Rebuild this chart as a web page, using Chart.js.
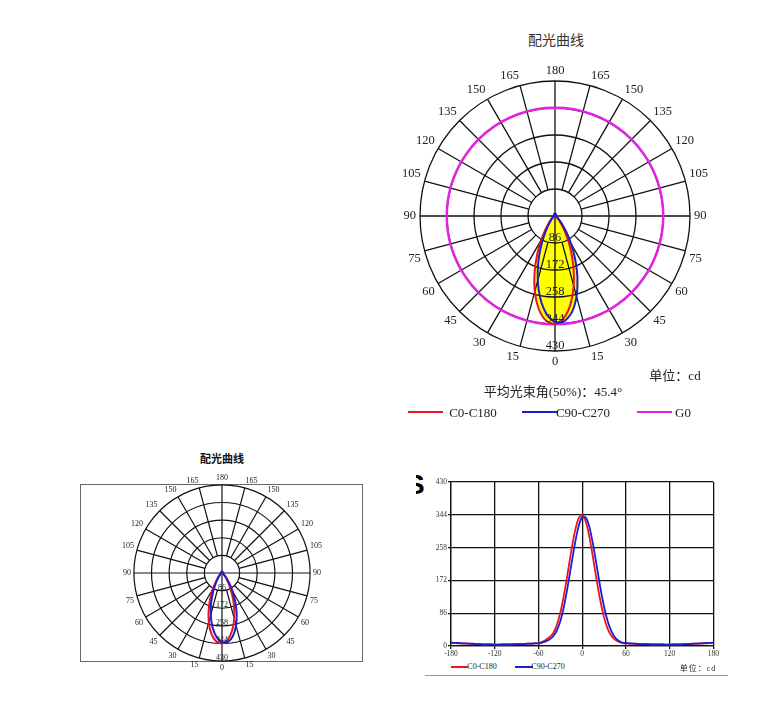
<!DOCTYPE html>
<html>
<head>
<meta charset="utf-8">
<title>配光曲线</title>
<script src="https://cdn.jsdelivr.net/npm/chart.js@4.4.1/dist/chart.umd.min.js"></script>
<style>
  html, body { margin: 0; padding: 0; background: #fff; }
  body { position: relative; width: 774px; height: 726px; overflow: hidden; font-family: "Liberation Serif", serif; color: #222; }
  .box { position: absolute; }
  .t { position: absolute; white-space: nowrap; transform: translate(-50%, -50%); line-height: 1; }
  .cjk { font-family: "Noto Sans CJK SC", sans-serif; }
  .key { position: absolute; height: 2px; }
</style>
</head>
<body>

<!-- top polar -->
<div class="t cjk" style="left:556px;top:39px;font-size:14px;color:#333">配光曲线</div>
<div class="box" style="left:403px;top:63px;width:306px;height:306px"><canvas id="polarTop"></canvas></div>
<div class="t" style="left:675px;top:375px;font-size:13px"><span class="cjk">单位：</span>cd</div>
<div class="t" style="left:553px;top:391px;font-size:13px"><span class="cjk">平均光束角</span>(50%)<span class="cjk">：</span>45.4°</div>
<div class="key" style="left:408px;top:411px;width:35px;background:#e8161e"></div>
<div class="t" style="left:473px;top:412px;font-size:13px">C0-C180</div>
<div class="key" style="left:522px;top:411px;width:35px;background:#1e1ecf"></div>
<div class="t" style="left:583px;top:412px;font-size:13px">C90-C270</div>
<div class="key" style="left:637px;top:411px;width:35px;background:#e024e0"></div>
<div class="t" style="left:683px;top:412px;font-size:13px">G0</div>

<!-- bottom-left polar -->
<div class="t cjk" style="left:222px;top:458px;font-size:11px;font-weight:bold;color:#111">配光曲线</div>
<div class="box" style="left:80px;top:484px;width:281px;height:176px;border:1px solid #666"></div>
<div class="box" style="left:122px;top:473px;width:200px;height:200px"><canvas id="polarSmall"></canvas></div>

<!-- cartesian -->
<div class="box" style="left:416px;top:471px;width:9px;height:26px;overflow:hidden"><span style="position:absolute;left:-10px;top:0;font:bold 28px/28px 'Liberation Sans';color:#000">S</span></div>
<div class="box" style="left:411px;top:472px;width:309px;height:190px"><canvas id="lineChart"></canvas></div>
<div class="key" style="left:451px;top:666px;width:17px;height:1.5px;background:#e8161e"></div>
<div class="t" style="left:482px;top:667px;font-size:8px">C0-C180</div>
<div class="key" style="left:515px;top:666px;width:18px;height:1.5px;background:#1e1ecf"></div>
<div class="t" style="left:548px;top:667px;font-size:8px">C90-C270</div>
<div class="t" style="left:698px;top:668px;font-size:8px;letter-spacing:1px"><span class="cjk">单位：</span>cd</div>
<div class="box" style="left:425px;top:675px;width:303px;height:1px;background:#999"></div>

<script>
// angles in degrees, -180..180 every 5
const angleDeg = [-180, -175, -170, -165, -160, -155, -150, -145, -140, -135, -130, -125,
                  -120, -115, -110, -105, -100, -95, -90, -85, -80, -75, -70, -65,
                  -60, -55, -50, -45, -40, -35, -30, -25, -20, -15, -10, -5,
                  0, 5, 10, 15, 20, 25, 30, 35, 40, 45, 50, 55,
                  60, 65, 70, 75, 80, 85, 90, 95, 100, 105, 110, 115,
                  120, 125, 130, 135, 140, 145, 150, 155, 160, 165, 170, 175,
                  180];
// intensity (cd)
const c0c180Cd = [8, 8, 7, 7, 6, 6, 5, 5, 5, 4, 4, 4,
                  4, 4, 4, 4, 4, 5, 5, 5, 5, 6, 6, 7,
                  8, 11, 16, 23, 33, 54, 87, 134, 190, 249, 300, 334,
                  344, 326, 285, 230, 171, 118, 75, 45, 27, 17, 11, 8,
                  7, 6, 6, 5, 5, 5, 5, 4, 4, 4, 4, 4,
                  4, 4, 4, 4, 5, 5, 5, 6, 6, 7, 7, 8,
                  8];
const c90c270Cd = [9, 8, 8, 7, 7, 6, 6, 5, 5, 4, 4, 4,
                   3, 3, 4, 4, 4, 4, 5, 5, 5, 6, 6, 7,
                   7, 9, 12, 17, 25, 40, 65, 104, 155, 212, 268, 313,
                   338, 337, 311, 265, 209, 152, 103, 65, 39, 23, 14, 9,
                   8, 7, 6, 6, 5, 5, 5, 4, 4, 4, 4, 3,
                   3, 4, 4, 4, 5, 5, 6, 6, 7, 7, 8, 8,
                   9];
const g0Cd = 345;
const cdTicks = [0, 86, 172, 258, 344, 430];
const angleTicks = [-180, -120, -60, 0, 60, 120, 180];

const RED = '#e8161e', BLUE = '#1e1ecf', MAGENTA = '#e024e0', YELLOW = '#ffff00', INK = '#111';

Chart.defaults.font.family = '"Liberation Serif", serif';
Chart.defaults.color = '#222';

// polar order: index 0 at the bottom (0 deg), left half is the negative side, top is 180
const polarIdx = [];
for (let i = 0; i < 72; i++) polarIdx.push(i <= 36 ? 36 - i : 108 - i);
const polarLabels = polarIdx.map(k => String(Math.abs(angleDeg[k])));
const polarOf = arr => polarIdx.map(k => arr[k]);

// cd values written along the downward axis
const radialTickLabels = {
    id: 'radialTickLabels',
    afterDatasetsDraw(chart, args, opts) {
        const r = chart.scales.r, ctx = chart.ctx;
        ctx.save();
        ctx.font = opts.size + 'px "Liberation Serif"';
        ctx.fillStyle = '#222';
        ctx.textAlign = 'center';
        ctx.textBaseline = 'alphabetic';
        cdTicks.slice(1).forEach(v => {
            ctx.fillText(String(v), r.xCenter, r.yCenter + r.getDistanceFromCenterForValue(v) - opts.lift);
        });
        ctx.restore();
    }
};

function makePolar(id, o) {
    const sets = [
        { label: 'C90-C270', data: polarOf(c90c270Cd), borderColor: BLUE, order: 1 },
        { label: 'C0-C180', data: polarOf(c0c180Cd), borderColor: RED, order: 2 }
    ];
    sets.forEach(s => {
        s.borderWidth = o.lw;
        s.fill = o.fill ? 'origin' : false;
        s.backgroundColor = YELLOW;
    });
    if (o.g0) {
        sets.push({ label: 'G0', data: polarLabels.map(() => g0Cd), borderColor: MAGENTA, borderWidth: 2.5, fill: false, tension: 0, order: 3 });
    }
    return new Chart(document.getElementById(id), {
        type: 'radar',
        data: { labels: polarLabels, datasets: sets },
        plugins: [radialTickLabels],
        options: {
            responsive: true,
            maintainAspectRatio: false,
            animation: false,
            elements: { point: { radius: 0 }, line: { tension: 0.25 } },
            plugins: {
                legend: { display: false },
                tooltip: { enabled: false },
                filler: { drawTime: 'beforeDraw' },
                radialTickLabels: { size: o.font, lift: o.lift }
            },
            scales: {
                r: {
                    min: 0,
                    max: 430,
                    startAngle: 180,
                    ticks: { display: false, stepSize: 86 },
                    grid: { circular: true, color: INK, lineWidth: o.gw },
                    angleLines: {
                        color: INK,
                        lineWidth: c => c.index % 3 === 0 ? o.gw : 0,
                        borderDash: c => c.index % 18 === 0 ? [] : [0, c.scale.getDistanceFromCenterForValue(cdTicks[1]), 2000, 0]
                    },
                    pointLabels: {
                        padding: o.pad,
                        color: '#222',
                        font: { size: o.font, lineHeight: 1 },
                        callback: (lbl, i) => i % 3 === 0 ? lbl : ''
                    }
                }
            }
        }
    });
}

makePolar('polarTop', { font: 12.5, pad: 4, lw: 2, gw: 1.3, fill: true, g0: true, lift: 2 });
makePolar('polarSmall', { font: 8, pad: 3, lw: 2, gw: 1.2, fill: false, g0: false, lift: 1 });

// ================= Cartesian =================
new Chart(document.getElementById('lineChart'), {
    type: 'line',
    data: {
        datasets: [
            { label: 'C90-C270', data: angleDeg.map((a, i) => ({ x: a, y: c90c270Cd[i] })), borderColor: BLUE, order: 1 },
            { label: 'C0-C180', data: angleDeg.map((a, i) => ({ x: a, y: c0c180Cd[i] })), borderColor: RED, order: 2 }
        ]
    },
    options: {
        responsive: true,
        maintainAspectRatio: false,
        animation: false,
        layout: { padding: { top: 10, right: 6, left: 0, bottom: 0 } },
        elements: { point: { radius: 0 }, line: { tension: 0.3, borderWidth: 1.8 } },
        plugins: { legend: { display: false }, tooltip: { enabled: false } },
        scales: {
            x: {
                type: 'linear', min: -180, max: 180,
                afterBuildTicks: s => { s.ticks = angleTicks.map(v => ({ value: v })); },
                afterFit: s => { s.height = 16; },
                ticks: { font: { size: 7.5 }, color: '#333', padding: 1, maxRotation: 0, autoSkip: false },
                grid: { color: INK, lineWidth: 1.3, tickLength: 3 },
                border: { color: INK, width: 1.3 }
            },
            y: {
                min: 0, max: 430,
                afterBuildTicks: s => { s.ticks = cdTicks.map(v => ({ value: v })); },
                afterFit: s => { s.width = 40; },
                ticks: { font: { size: 7.5 }, color: '#333', padding: 1 },
                grid: { color: INK, lineWidth: 1.3, tickLength: 3 },
                border: { color: INK, width: 1.3 }
            }
        }
    }
});
</script>
</body>
</html>
